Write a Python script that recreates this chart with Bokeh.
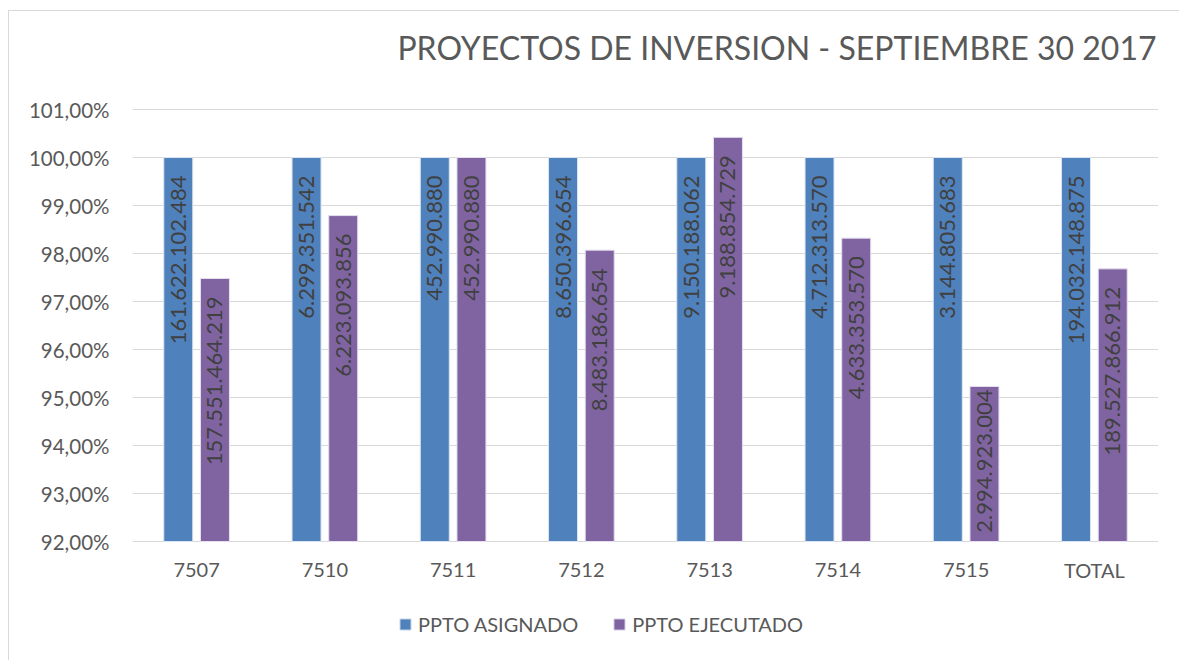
from bokeh.plotting import figure
from bokeh.models import (FactorRange, Range1d, ColumnDataSource, LabelSet, Label, FixedTicker,
                          CustomJSTickFormatter, Legend, LegendItem)
from bokeh.core.properties import value
from bokeh.transform import dodge
from bokeh.embed import file_html
from bokeh.resources import INLINE
import math

categories = ["7507", "7510", "7511", "7512", "7513", "7514", "7515", "TOTAL"]
asignado_pct = [1.0, 1.0, 1.0, 1.0, 1.0, 1.0, 1.0, 1.0]
ejecutado_pct = [0.9748, 0.9879, 1.0, 0.9807, 1.0042, 0.9832, 0.9523, 0.9768]
asignado_lbl = ["161.622.102.484", "6.299.351.542", "452.990.880", "8.650.396.654",
                "9.150.188.062", "4.712.313.570", "3.144.805.683", "194.032.148.875"]
ejecutado_lbl = ["157.551.464.219", "6.223.093.856", "452.990.880", "8.483.186.654",
                 "9.188.854.729", "4.633.353.570", "2.994.923.004", "189.527.866.912"]
y_ticks = [0.92, 0.93, 0.94, 0.95, 0.96, 0.97, 0.98, 0.99, 1.00, 1.01]
title_text = "PROYECTOS DE INVERSION - SEPTIEMBRE 30 2017"
series_names = ["PPTO ASIGNADO", "PPTO EJECUTADO"]

BLUE = "#4F81BD"
PURPLE = "#8064A2"
TXT = "#595959"
FONT = "Lato"
Y0 = 0.92
Y1 = 1.01

W, H = 1179, 660
BL, BR, BB = 132, 21, 5
TOP_GAP = 109          # pixels between canvas top and the 101% gridline
frame_h = H - BB
px_per_pct = 48.0
y_end = Y1 + TOP_GAP / px_per_pct * 0.01
y_start = y_end - frame_h / px_per_pct * 0.01

p = figure(x_range=FactorRange(factors=categories, range_padding=0),
           y_range=Range1d(y_start, y_end), x_axis_location=None,
           width=W, height=H, output_backend="svg", toolbar_location=None,
           min_border_left=BL, min_border_right=BR, min_border_top=0, min_border_bottom=BB,
           border_fill_color=None, background_fill_color=None)
p.styles = {"background": "linear-gradient(#d9d9d9, #d9d9d9) 8px 10px / 1px 100% no-repeat, "
                          "linear-gradient(#d9d9d9, #d9d9d9) 8px 10px / 100% 1px no-repeat, white"}

title = Label(x=len(categories), y=Y1, x_offset=-2, y_offset=62, text=title_text,
              text_align="right", text_baseline="middle", text_font=FONT,
              text_font_size="32px", text_color=TXT)
p.add_layout(title)

off = 0.143
bw = 0.226

def pad_for(v):
    return 18 if (v - Y0) * 100 * px_per_pct > 175 else 3

src = ColumnDataSource(dict(
    cat=categories, a=asignado_pct, e=ejecutado_pct,
    al=asignado_lbl, el=ejecutado_lbl,
    bottom=[Y0] * len(categories),
    ao=[-pad_for(v) for v in asignado_pct],
    eo=[-pad_for(v) for v in ejecutado_pct],
))

r1 = p.vbar(x=dodge("cat", -off, range=p.x_range), top="a", bottom="bottom", width=bw,
            source=src, fill_color=BLUE, line_color="#dbe5f1", line_width=1)
r2 = p.vbar(x=dodge("cat", off, range=p.x_range), top="e", bottom="bottom", width=bw,
            source=src, fill_color=PURPLE, line_color="#e5dff0", line_width=1)

for col, lbl, yo, sgn in (("a", "al", "ao", -1), ("e", "el", "eo", 1)):
    ls = LabelSet(x=dodge("cat", sgn * off, range=p.x_range), y=col, text=lbl, source=src,
                  angle=math.pi / 2, text_align="right", text_baseline="middle",
                  y_offset=yo, text_font=value(FONT), text_font_size=value("22px"),
                  text_color=value("#404040"))
    p.add_layout(ls)

# category labels under the baseline
cat_labels = LabelSet(x="cat", y="bottom", text="cat", source=src, y_offset=-28,
                      text_align="center", text_baseline="middle",
                      text_font=value(FONT), text_font_size=value("20px"),
                      text_color=value(TXT))
p.add_layout(cat_labels)

p.yaxis.ticker = FixedTicker(ticks=y_ticks)
p.yaxis.formatter = CustomJSTickFormatter(code="return (tick*100).toFixed(2).replace('.', ',') + '%';")
p.yaxis.axis_line_color = None
p.yaxis.major_tick_line_color = None
p.yaxis.minor_tick_line_color = None
p.yaxis.major_tick_out = 0
p.yaxis.major_label_standoff = 23
p.yaxis.major_label_text_font = FONT
p.yaxis.major_label_text_font_size = "20.5px"
p.yaxis.major_label_text_color = TXT

p.xgrid.grid_line_color = None
p.ygrid.grid_line_color = "#d9d9d9"
p.ygrid.grid_line_width = 1
p.outline_line_color = None

legend = Legend(items=[LegendItem(label=series_names[0], renderers=[r1]),
                       LegendItem(label=series_names[1], renderers=[r2])],
                orientation="horizontal", location=(266, 19),
                label_text_font=FONT, label_text_font_size="20px", label_text_color=TXT,
                glyph_width=14, glyph_height=14, spacing=34, label_standoff=6,
                border_line_color=None, background_fill_alpha=0, margin=0, padding=0)
p.add_layout(legend, "center")

open("out.html", "w").write(file_html(p, INLINE))
